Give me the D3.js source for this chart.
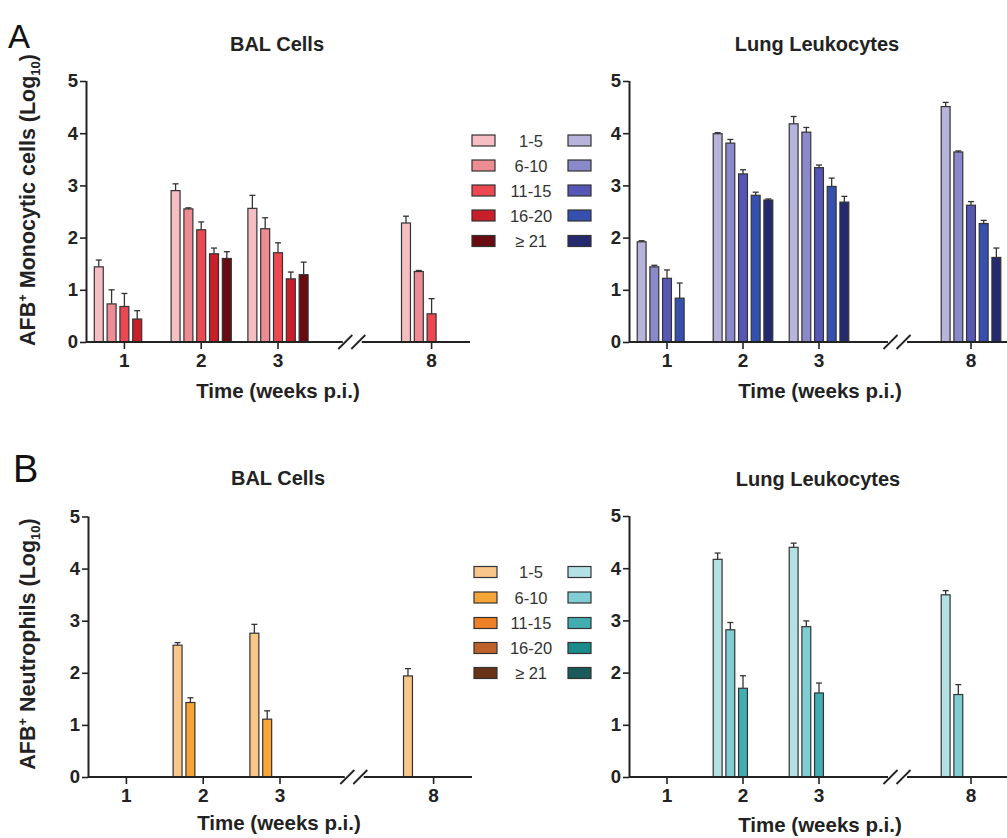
<!DOCTYPE html>
<html>
<head>
<meta charset="utf-8">
<script src="https://cdn.jsdelivr.net/npm/d3@7"></script>
<style>
  html, body { margin: 0; padding: 0; background: #fff; }
  svg { display: block; font-family: "Liberation Sans", Arial, sans-serif; }
</style>
</head>
<body>
<svg id="chart" width="1007" height="838"></svg>
<script>
// ---------------- DATA ----------------
const timePoints = ["1", "2", "3", "8"];
const slots = ["1", "2", "3", "gap", "8"];
const seriesNames = ["1-5", "6-10", "11-15", "16-20", "\u2265 21"];
const yTicks = [0, 1, 2, 3, 4, 5];

// rows = series (1-5 ... >=21), columns = time points (1, 2, 3, 8)
const balMono = [
  [1.44, 2.90, 2.56, 2.28],
  [0.73, 2.55, 2.17, 1.35],
  [0.68, 2.15, 1.71, 0.54],
  [0.44, 1.69, 1.21, null],
  [null, 1.60, 1.29, null]
];
const balMonoErr = [
  [0.13, 0.13, 0.25, 0.13],
  [0.27, 0.02, 0.21, 0.02],
  [0.25, 0.15, 0.19, 0.29],
  [0.16, 0.11, 0.13, null],
  [null, 0.13, 0.24, null]
];
const lungMono = [
  [1.92, 3.99, 4.18, 4.51],
  [1.44, 3.81, 4.02, 3.64],
  [1.22, 3.22, 3.34, 2.62],
  [0.84, 2.81, 2.98, 2.27],
  [null, 2.72, 2.68, 1.62]
];
const lungMonoErr = [
  [0.02, 0.02, 0.14, 0.08],
  [0.03, 0.07, 0.09, 0.02],
  [0.16, 0.08, 0.05, 0.07],
  [0.29, 0.06, 0.16, 0.06],
  [null, 0.02, 0.11, 0.18]
];
const balNeut = [
  [null, 2.53, 2.76, 1.94],
  [null, 1.43, 1.11, null],
  [null, null, null, null],
  [null, null, null, null],
  [null, null, null, null]
];
const balNeutErr = [
  [null, 0.05, 0.17, 0.14],
  [null, 0.09, 0.16, null],
  [null, null, null, null],
  [null, null, null, null],
  [null, null, null, null]
];
const lungNeut = [
  [null, 4.17, 4.40, 3.49],
  [null, 2.82, 2.88, 1.58],
  [null, 1.70, 1.61, null],
  [null, null, null, null],
  [null, null, null, null]
];
const lungNeutErr = [
  [null, 0.12, 0.08, 0.08],
  [null, 0.14, 0.11, 0.19],
  [null, 0.24, 0.19, null],
  [null, null, null, null],
  [null, null, null, null]
];

const redColors    = ["#f4bec2", "#ee8c93", "#ec4852", "#c81f2b", "#680c12"];
const blueColors   = ["#b6b4da", "#8a89c9", "#5656b6", "#3550ae", "#252a70"];
const orangeColors = ["#f8c688", "#f5a636", "#f08024", "#bf622a", "#683316"];
const tealColors   = ["#b3e1e4", "#80ced3", "#42aeb2", "#1a8a8a", "#1b5a5a"];

// ---------------- DRAW ----------------
const svg = d3.select("#chart");
const ink = "#222";

function panel(cfg) {
  const g = svg.append("g");
  const y = d3.scaleLinear().domain([0, 5]).range([cfg.y0, cfg.y5]);
  const x = d3.scaleBand().domain(slots).range([cfg.x0, cfg.x1]).paddingInner(0).paddingOuter(0);
  const half = x.bandwidth() * 0.417;
  const inner = d3.scaleBand().domain(d3.range(seriesNames.length))
    .range([-half, half]).paddingInner(0.3).paddingOuter(0.15);

  // bars
  const bars = [];
  cfg.values.forEach((row, s) => row.forEach((v, t) => {
    if (v != null) bars.push({ s, t, v, e: cfg.errors[s][t] || 0 });
  }));
  const cx = d => x(timePoints[d.t]) + x.bandwidth() / 2 + inner(d.s);
  g.selectAll("rect.bar").data(bars).join("rect")
    .attr("x", d => cx(d))
    .attr("y", d => y(d.v))
    .attr("width", inner.bandwidth())
    .attr("height", d => y(0) - y(d.v))
    .attr("fill", d => cfg.colors[d.s])
    .attr("stroke", "#333")
    .attr("stroke-width", 1.2);
  // error bars (upper only)
  const eb = g.selectAll("g.err").data(bars.filter(d => d.e > 0)).join("g")
    .attr("stroke", "#333").attr("stroke-width", 1.3);
  eb.append("line")
    .attr("x1", d => cx(d) + inner.bandwidth() / 2).attr("x2", d => cx(d) + inner.bandwidth() / 2)
    .attr("y1", d => y(d.v)).attr("y2", d => y(d.v + d.e));
  eb.append("line")
    .attr("x1", d => cx(d) + inner.bandwidth() / 2 - 3).attr("x2", d => cx(d) + inner.bandwidth() / 2 + 3)
    .attr("y1", d => y(d.v + d.e)).attr("y2", d => y(d.v + d.e));

  // y axis
  const ya = g.append("g").attr("transform", `translate(${cfg.x0},0)`)
    .call(d3.axisLeft(y).tickValues(yTicks).tickFormat(d3.format("d")).tickSize(6).tickPadding(2));
  ya.select(".domain").attr("stroke", ink).attr("stroke-width", 2).attr("d", `M0.5,${cfg.y5}V${cfg.y0}`);
  ya.selectAll(".tick line").attr("stroke", ink).attr("stroke-width", 1.6);
  ya.selectAll(".tick text").attr("font-size", 18.5).attr("font-weight", "bold").attr("fill", ink)
    .attr("font-family", "'Liberation Sans', Arial, sans-serif");

  // x axis
  const xa = g.append("g").attr("transform", `translate(0,${cfg.y0})`)
    .call(d3.axisBottom(x).tickValues(timePoints).tickSize(7).tickPadding(5).tickSizeOuter(0));
  xa.select(".domain").remove();
  xa.selectAll(".tick line").attr("stroke", ink).attr("stroke-width", 1.6);
  xa.selectAll(".tick text").attr("font-size", 19).attr("font-weight", "bold").attr("fill", ink)
    .attr("font-family", "'Liberation Sans', Arial, sans-serif");
  const bc = x("gap") + x.bandwidth() / 2 + cfg.breakShift;
  xa.append("line").attr("x1", cfg.x0).attr("x2", bc - 9).attr("y1", 0).attr("y2", 0)
    .attr("stroke", ink).attr("stroke-width", 2);
  xa.append("line").attr("x1", bc + 10).attr("x2", cfg.x1).attr("y1", 0).attr("y2", 0)
    .attr("stroke", ink).attr("stroke-width", 2);
  [-6.5, 6.5].forEach(off => {
    xa.append("line")
      .attr("x1", bc + off - 7).attr("y1", 7).attr("x2", bc + off + 7).attr("y2", -7)
      .attr("stroke", ink).attr("stroke-width", 1.8);
  });

  // title
  g.append("text").attr("x", cfg.titleX).attr("y", cfg.titleY).attr("text-anchor", "middle")
    .attr("font-size", 20).attr("font-weight", "bold").attr("fill", ink).text(cfg.title);
  // x label
  g.append("text").attr("x", cfg.xLabelX).attr("y", cfg.xLabelY).attr("text-anchor", "middle")
    .attr("font-size", 20.5).attr("font-weight", "bold").attr("fill", ink).text("Time (weeks p.i.)");
}

function yLabel(cx, cy, word) {
  const t = svg.append("text")
    .attr("transform", `translate(${cx},${cy}) rotate(-90)`)
    .attr("text-anchor", "middle").attr("font-size", 21.5).attr("font-weight", "bold").attr("fill", ink);
  t.append("tspan").text("AFB");
  t.append("tspan").attr("font-size", 13).attr("dy", -8).text("+");
  t.append("tspan").attr("dy", 8).text(" " + word + " (Log");
  t.append("tspan").attr("font-size", 13).attr("dy", 5).text("10");
  t.append("tspan").attr("dy", -5).text(")");
}

function legend(lx, rx, labelX, rowYs, leftColors, rightColors) {
  const g = svg.append("g");
  seriesNames.forEach((name, i) => {
    const cy = rowYs[i];
    g.append("rect").attr("x", lx).attr("y", cy - 5.5).attr("width", 23).attr("height", 11)
      .attr("fill", leftColors[i]).attr("stroke", "#333").attr("stroke-width", 1.2);
    g.append("rect").attr("x", rx).attr("y", cy - 5.5).attr("width", 23).attr("height", 11)
      .attr("fill", rightColors[i]).attr("stroke", "#333").attr("stroke-width", 1.2);
    g.append("text").attr("x", labelX).attr("y", cy + 6).attr("text-anchor", "middle")
      .attr("font-size", 16.5).attr("fill", "#333").text(name);
  });
}

// panel letters
svg.append("text").attr("x", 8).attr("y", 48).attr("font-size", 33).attr("fill", "#111").text("A");
svg.append("text").attr("x", 13).attr("y", 482).attr("font-size", 38).attr("fill", "#111").text("B");

panel({ x0: 86, x1: 470, y0: 342, y5: 81, breakShift: -3, values: balMono, errors: balMonoErr,
  colors: redColors, title: "BAL Cells", titleX: 277, titleY: 51, xLabelX: 278, xLabelY: 398 });
panel({ x0: 629, x1: 1009, y0: 342, y5: 81, breakShift: 2, values: lungMono, errors: lungMonoErr,
  colors: blueColors, title: "Lung Leukocytes", titleX: 817, titleY: 51, xLabelX: 820, xLabelY: 398 });
panel({ x0: 88, x1: 472, y0: 777, y5: 516.5, breakShift: -3, values: balNeut, errors: balNeutErr,
  colors: orangeColors, title: "BAL Cells", titleX: 278, titleY: 485, xLabelX: 279, xLabelY: 830 });
panel({ x0: 629, x1: 1009, y0: 777, y5: 516, breakShift: 2, values: lungNeut, errors: lungNeutErr,
  colors: tealColors, title: "Lung Leukocytes", titleX: 818, titleY: 486, xLabelX: 820, xLabelY: 832 });

yLabel(35, 200, "Monocytic cells");
yLabel(35, 644, "Neutrophils");

legend(472, 568, 531, [140.5, 165.5, 190.5, 215.5, 241], redColors, blueColors);
legend(474, 568, 531, [572, 597.5, 623, 648, 673], orangeColors, tealColors);
</script>
</body>
</html>
